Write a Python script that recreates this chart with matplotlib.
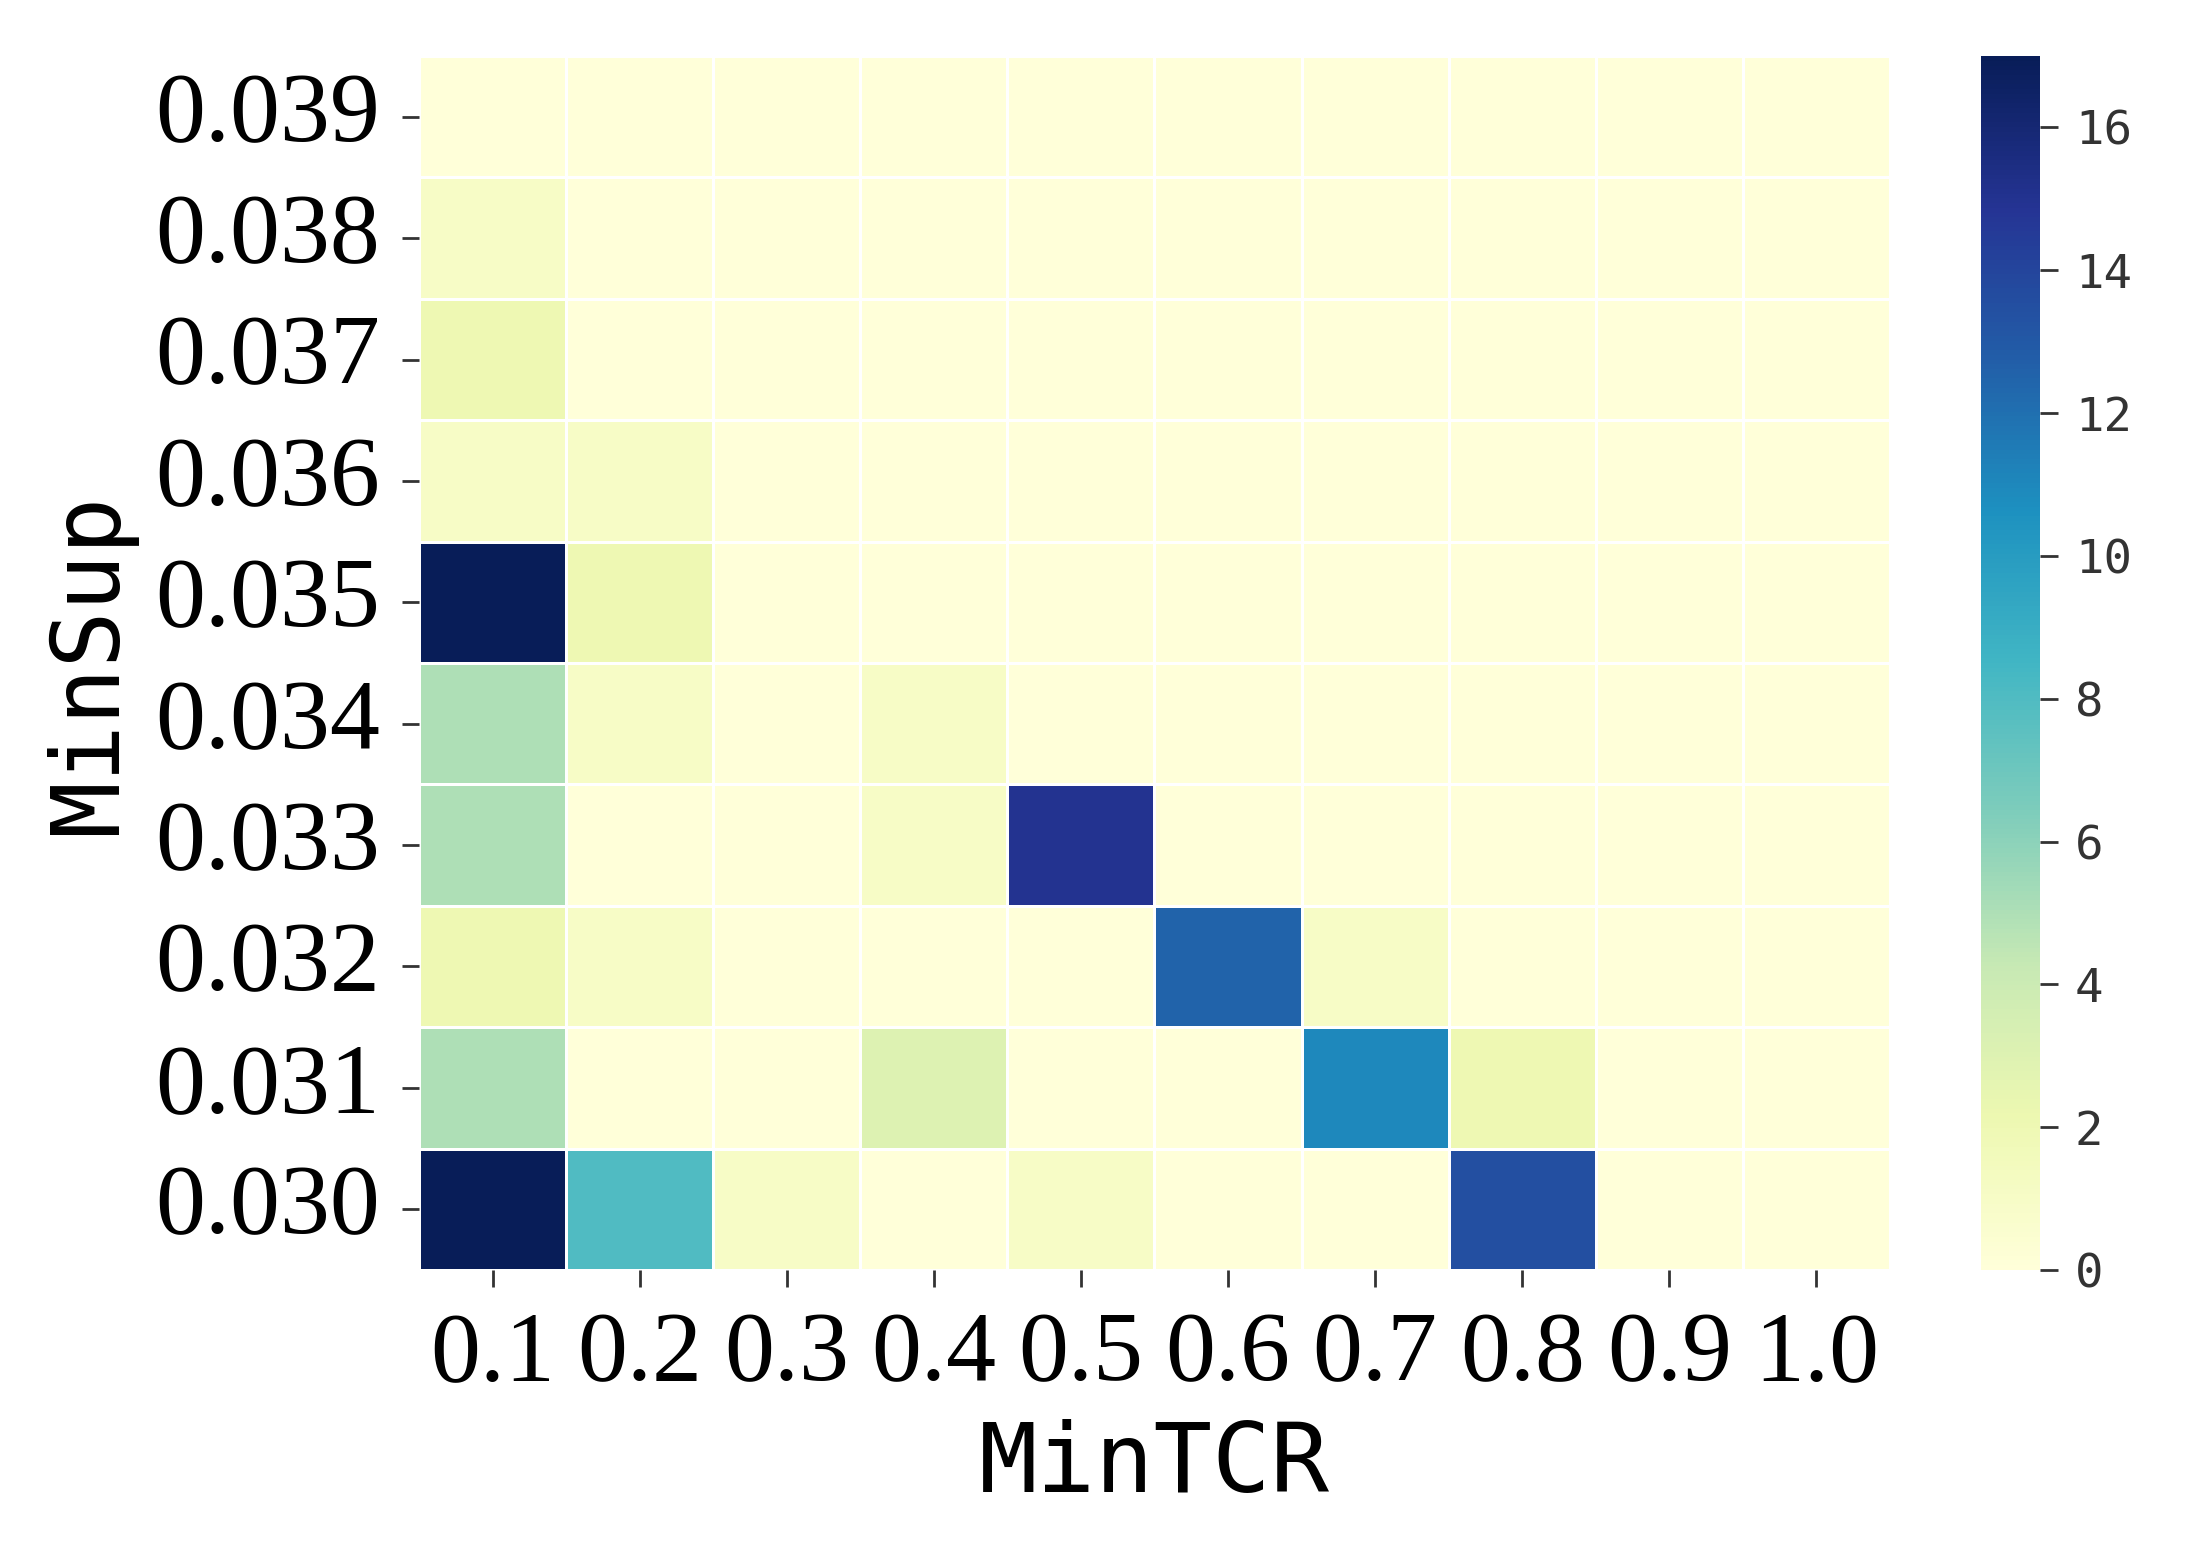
import numpy as np
import pandas as pd
import matplotlib
matplotlib.use("Agg")
import matplotlib.pyplot as plt
import seaborn as sns

# 行: MinSup (上から 0.039 -> 0.030), 列: MinTCR
min_sup = ["0.039", "0.038", "0.037", "0.036", "0.035",
           "0.034", "0.033", "0.032", "0.031", "0.030"]
min_tcr = ["0.1", "0.2", "0.3", "0.4", "0.5", "0.6", "0.7", "0.8", "0.9", "1.0"]

row_039 = [0, 0, 0, 0, 0, 0, 0, 0, 0, 0]
row_038 = [1, 0, 0, 0, 0, 0, 0, 0, 0, 0]
row_037 = [2, 0, 0, 0, 0, 0, 0, 0, 0, 0]
row_036 = [1, 1, 0, 0, 0, 0, 0, 0, 0, 0]
row_035 = [17, 2, 0, 0, 0, 0, 0, 0, 0, 0]
row_034 = [5, 1, 0, 1, 0, 0, 0, 0, 0, 0]
row_033 = [5, 0, 0, 1, 15, 0, 0, 0, 0, 0]
row_032 = [2, 1, 0, 0, 0, 12.5, 1, 0, 0, 0]
row_031 = [5, 0, 0, 3, 0, 0, 11, 2, 0, 0]
row_030 = [17, 8, 1, 0, 1, 0, 0, 13.5, 0, 0]

cbar_ticks = [0, 2, 4, 6, 8, 10, 12, 14, 16]

df = pd.DataFrame([row_039, row_038, row_037, row_036, row_035,
                   row_034, row_033, row_032, row_031, row_030],
                  index=min_sup, columns=min_tcr)

fig = plt.figure(figsize=(21.88, 15.48), dpi=100)
ax = fig.add_axes([0.1915, 0.1796, 0.6723, 0.7842])
cax = fig.add_axes([0.9054, 0.1796, 0.027, 0.7842])

sns.heatmap(df, ax=ax, cbar_ax=cax, cmap="YlGnBu", vmin=0, vmax=17,
            linewidths=2, linecolor="white")

serif = "Liberation Serif"
ax.set_xticklabels(min_tcr, fontfamily=serif, fontsize=72, rotation=0)
ax.set_yticklabels(min_sup, fontfamily=serif, fontsize=72, rotation=0)
ax.tick_params(axis="y", length=12, width=2, color="#333333", pad=16)
ax.tick_params(axis="x", length=12, width=2, color="#333333", pad=18)

ax.set_xlabel("MinTCR", fontfamily="DejaVu Sans Mono", fontsize=70, labelpad=12)
ax.set_ylabel("MinSup", fontfamily="DejaVu Sans Mono", fontsize=68, labelpad=14)

cax.set_yticks(cbar_ticks)
cax.set_yticklabels([str(t) for t in cbar_ticks], fontfamily="DejaVu Sans Mono",
                    fontsize=34, color="#333333")
cax.tick_params(length=13, width=2, color="#333333", pad=12)

fig.savefig("out.png", dpi=100)
